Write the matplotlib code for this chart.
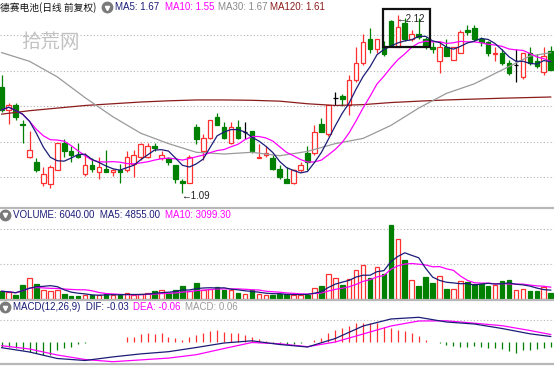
import matplotlib
matplotlib.use('Agg')
import matplotlib.pyplot as plt
import numpy as np
import pandas as pd
from matplotlib.lines import Line2D
from matplotlib.patches import Rectangle

# daily candles (qfq)
opens = [1.70, 1.57, 1.60, 1.49, 1.30, 1.27, 1.15, 1.14, 1.22, 1.38,
         1.33, 1.31, 1.20, 1.25, 1.21, 1.23, 1.21, 1.22, 1.22, 1.26,
         1.30, 1.30, 1.36, 1.29, 1.29, 1.25, 1.16, 1.15, 1.47, 1.33,
         1.41, 1.53, 1.47, 1.38, 1.47, 1.44, 1.45, 1.29, 1.31, 1.29,
         1.23, 1.17, 1.15, 1.22, 1.32, 1.32, 1.49, 1.43, 1.64, 1.65,
         1.60, 1.74, 1.84, 1.98, 1.92, 1.93, 2.08, 1.93, 2.07, 1.98,
         2.01, 1.98, 1.93, 1.85, 1.93, 1.86, 1.90, 2.03, 2.04, 1.98,
         1.96, 1.89, 1.90, 1.84, 1.83, 1.76, 1.90, 1.85, 1.79, 1.91]
highs = [1.77, 1.61, 1.61, 1.51, 1.45, 1.29, 1.24, 1.25, 1.38, 1.40,
         1.36, 1.38, 1.32, 1.29, 1.30, 1.34, 1.23, 1.26, 1.33, 1.34,
         1.38, 1.38, 1.38, 1.33, 1.30, 1.25, 1.17, 1.31, 1.49, 1.43,
         1.51, 1.55, 1.50, 1.50, 1.51, 1.50, 1.45, 1.37, 1.36, 1.31,
         1.25, 1.24, 1.23, 1.27, 1.36, 1.48, 1.52, 1.60, 1.67, 1.66,
         1.77, 1.93, 2.01, 2.04, 1.98, 1.97, 2.09, 2.12, 2.10, 2.03,
         2.10, 1.99, 1.96, 1.97, 1.98, 1.93, 2.03, 2.06, 2.06, 1.99,
         1.97, 1.93, 1.92, 1.86, 1.92, 1.90, 1.93, 1.89, 1.93, 1.94]
lows = [1.56, 1.49, 1.51, 1.38, 1.29, 1.21, 1.13, 1.12, 1.22, 1.30,
        1.27, 1.29, 1.19, 1.21, 1.17, 1.21, 1.19, 1.15, 1.21, 1.18,
        1.28, 1.29, 1.33, 1.28, 1.25, 1.15, 1.09, 1.15, 1.37, 1.28,
        1.40, 1.48, 1.40, 1.37, 1.40, 1.40, 1.32, 1.29, 1.30, 1.22,
        1.17, 1.15, 1.14, 1.21, 1.22, 1.31, 1.44, 1.42, 1.60, 1.59,
        1.54, 1.73, 1.83, 1.90, 1.90, 1.88, 1.93, 1.93, 1.97, 1.97,
        1.98, 1.92, 1.90, 1.78, 1.88, 1.86, 1.90, 2.00, 1.97, 1.94,
        1.88, 1.85, 1.83, 1.77, 1.73, 1.75, 1.83, 1.81, 1.77, 1.80]
closes = [1.57, 1.60, 1.53, 1.48, 1.34, 1.22, 1.20, 1.24, 1.38, 1.33,
          1.31, 1.30, 1.25, 1.23, 1.24, 1.21, 1.22, 1.21, 1.30, 1.31,
          1.37, 1.36, 1.35, 1.31, 1.27, 1.17, 1.15, 1.30, 1.40, 1.41,
          1.51, 1.48, 1.41, 1.47, 1.41, 1.44, 1.33, 1.30, 1.32, 1.23,
          1.18, 1.15, 1.22, 1.25, 1.27, 1.44, 1.44, 1.60, 1.64, 1.63,
          1.74, 1.84, 1.96, 1.92, 1.98, 1.89, 1.94, 2.05, 1.98, 2.01,
          1.99, 1.94, 1.92, 1.93, 1.88, 1.93, 2.02, 2.02, 1.98, 1.96,
          1.90, 1.90, 1.84, 1.78, 1.83, 1.90, 1.84, 1.82, 1.88, 1.80]
volumes = [3850, 3350, 2150, 7150, 10500, 7500, 4350, 3850, 4650, 2650,
           1650, 1650, 2150, 2150, 1850, 2500, 2150, 1850, 3000, 1850,
           2500, 3000, 3850, 4650, 3000, 4350, 6650, 3850, 8000, 4650,
           5000, 6000, 4350, 4650, 3000, 2500, 4350, 2500, 2150, 1850,
           2500, 2500, 2150, 2150, 2150, 5500, 6350, 12650, 10500, 7150,
           10000, 14650, 17150, 10500, 16000, 12650, 37150, 30000, 19650, 9650,
           6650, 10850, 8000, 11350, 5000, 5000, 8850, 8350, 7650, 7650,
           6650, 7150, 9150, 9650, 4350, 5000, 4150, 4150, 5850, 3000]

# long averages and MACD lines read every 4 sessions
line_idx = [0, 4, 8, 12, 16, 20, 24, 28, 32, 36, 40, 44, 48, 52, 56, 60, 64, 68, 72, 76, 79]
ma30 = [1.90, 1.85, 1.76, 1.64, 1.53, 1.435, 1.375, 1.325, 1.315, 1.325, 1.305,
        1.33, 1.375, 1.405, 1.48, 1.58, 1.665, 1.72, 1.80, 1.88, 1.90]
ma120 = [1.545, 1.565, 1.58, 1.595, 1.605, 1.615, 1.622, 1.627, 1.627, 1.625, 1.62,
         1.605, 1.595, 1.60, 1.612, 1.62, 1.627, 1.632, 1.637, 1.641, 1.644]
dif = [-0.03, -0.0515, -0.084, -0.094, -0.076, -0.061, -0.05, -0.029, -0.0065, 0.0045, -0.014,
       -0.0265, 0.016, 0.0785, 0.1135, 0.122, 0.0985, 0.0885, 0.066, 0.0395, 0.026]
dea = [-0.02, -0.0365, -0.0665, -0.089, -0.10, -0.091, -0.082, -0.065, -0.034, -0.004, -0.0105,
       -0.025, -0.0015, 0.0385, 0.0785, 0.1035, 0.1045, 0.0925, 0.08, 0.056, 0.036]
macd_hist = [-0.025, -0.025, -0.033, -0.042, -0.05, -0.058, -0.067, -0.067, -0.042, -0.033,
             -0.025, -0.012, -0.005, -0.003, -0.003, -0.002, -0.002, 0.001, 0.025, 0.025,
             0.037, 0.042, 0.038, 0.042, 0.025, 0.017, 0.008, 0.022, 0.033, 0.042,
             0.055, 0.058, 0.05, 0.042, 0.042, 0.033, 0.022, 0.012, 0.005, -0.005,
             -0.008, -0.012, -0.012, -0.005, -0.001, 0.008, 0.017, 0.042, 0.058, 0.067,
             0.078, 0.092, 0.095, 0.095, 0.092, 0.075, 0.07, 0.058, 0.053, 0.045,
             0.028, 0.008, 0.0, -0.008, -0.017, -0.022, -0.025, -0.025, -0.022, -0.025,
             -0.033, -0.033, -0.038, -0.045, -0.055, -0.042, -0.042, -0.038, -0.033, -0.025]

price_grid = [2.0, 1.795, 1.59, 1.387, 1.185]
vol_grid = [17500, 35000]
macd_grid = [0.1085]

RED = '#ff3030'
GREEN = '#008000'
NAVY = '#1c1c78'
MAGENTA = '#ff00ff'
GRAY = '#9a9a9a'
DARKRED = '#8b1c1c'
GRID = '#b4b4b4'

plt.rcParams['font.family'] = ['Liberation Sans', 'Noto Sans CJK SC', 'DejaVu Sans']

df = pd.DataFrame({'open': opens, 'high': highs, 'low': lows, 'close': closes, 'vol': volumes})
n = len(df)
x = np.arange(n)
ma5 = df['close'].rolling(5, min_periods=1).mean()
ma10 = df['close'].rolling(10, min_periods=1).mean()
vma5 = df['vol'].rolling(5, min_periods=1).mean()
vma10 = df['vol'].rolling(10, min_periods=1).mean()

W, H = 554, 367
fig = plt.figure(figsize=(W / 100, H / 100), dpi=100)


def band(top, bottom):
    return [0, 1 - bottom / H, 1, (bottom - top) / H]


ax_p = fig.add_axes(band(0, 208))
ax_v = fig.add_axes(band(208, 300))
ax_m = fig.add_axes(band(300, 364))
for ax in (ax_p, ax_v, ax_m):
    ax.set_xlim(-0.245, 79.47)
    ax.set_xticks([])
    ax.set_yticks([])
    for s in ax.spines.values():
        s.set_visible(False)
ax_p.set_ylim(1.0035, 2.2037)
ax_v.set_ylim(-500, 45500)
ax_m.set_ylim(-0.1115, 0.2085)

for g in price_grid:
    ax_p.axhline(g, color=GRID, lw=0.8, ls=(0, (1, 2)), zorder=0)
for g in vol_grid:
    ax_v.axhline(g, color=GRID, lw=0.8, ls=(0, (1, 2)), zorder=0)
for g in macd_grid:
    ax_m.axhline(g, color=GRID, lw=0.8, ls=(0, (1, 2)), zorder=0)

bw = 0.66
# candles
for i, r in df.iterrows():
    o, h, l, c = r['open'], r['high'], r['low'], r['close']
    if c > o:
        col, fc = RED, 'white'
    elif c < o:
        col, fc = GREEN, GREEN
    else:
        col, fc = 'black', 'black'
    ax_p.vlines(i, l, h, color=col, lw=0.9, zorder=2)
    if c == o:
        ax_p.hlines(c, i - bw / 2, i + bw / 2, color=col, lw=0.9, zorder=3)
    else:
        ax_p.add_patch(Rectangle((i - bw / 2, min(o, c)), bw, abs(c - o),
                                 facecolor=fc, edgecolor=col, lw=0.9, zorder=3))
    # volume
    vcol, vfc = (RED, 'white') if c >= o else (GREEN, GREEN)
    ax_v.add_patch(Rectangle((i - bw / 2, 0), bw, r['vol'],
                             facecolor=vfc, edgecolor=vcol, lw=0.9, zorder=2))

ax_p.plot(line_idx, ma120, color=DARKRED, lw=0.9, zorder=4)
ax_p.plot(line_idx, ma30, color=GRAY, lw=0.9, zorder=4)
ax_p.plot(x, ma10, color=MAGENTA, lw=0.9, zorder=5)
ax_p.plot(x, ma5, color=NAVY, lw=0.9, zorder=6)

ax_v.plot(x, vma10, color=MAGENTA, lw=0.9, zorder=4)
ax_v.plot(x, vma5, color=NAVY, lw=0.9, zorder=5)

hist = np.array(macd_hist)
ax_m.vlines(x, 0, hist, colors=[RED if v > 0 else GREEN for v in hist], lw=0.9)
ax_m.plot(line_idx, dea, color=MAGENTA, lw=0.9)
ax_m.plot(line_idx, dif, color=NAVY, lw=0.9)

# min / max markers
imax = int(np.argmax(highs))
imin = int(np.argmin(lows))
ax_p.annotate('←' + format(highs[imax], '.2f'), xy=(imax, highs[imax]), xytext=(-1, -3),
              textcoords='offset points', ha='left', va='center', fontsize=7, color='#222222')
ax_p.annotate('←' + format(lows[imin], '.2f'), xy=(imin, lows[imin]), xytext=(-1, -2.5),
              textcoords='offset points', ha='left', va='center', fontsize=7, color='#222222')
ax_p.add_patch(Rectangle((54.86, 1.932), 6.77, 0.22, fill=False, edgecolor='#111111', lw=1.6, zorder=7))

# watermark
fig.text(21 / W, 1 - 43 / H, '拾荒网', family=['Noto Sans CJK SC'], fontsize=14,
         color='#c2c2c2', ha='left', va='center')

# panel separators
for yy in (208, 300, 364):
    fig.add_artist(Line2D([0, 1], [1 - yy / H] * 2, transform=fig.transFigure, color='#b8b8b8', lw=1.6))


def icon(px, py):
    fig.add_artist(Line2D([px / W], [1 - py / H], transform=fig.transFigure, marker='o', ms=7.5,
                          color='#7a7a7a', ls='none'))
    fig.add_artist(Line2D([px / W], [1 - (py + 0.5) / H], transform=fig.transFigure, marker='v', ms=3,
                          color='white', ls='none'))


def label(px, py, s, col, **kw):
    fig.text(px / W, 1 - py / H, s, color=col, fontsize=7, ha='left', va='center', **kw)


label(0, 7.5, '德赛电池(日线 前复权)', '#111111', family=['Noto Sans CJK SC'])
icon(107, 7)
label(115, 7.5, 'MA5: 1.67', NAVY)
label(165, 7.5, 'MA10: 1.55', MAGENTA)
label(218, 7.5, 'MA30: 1.67', '#8a8a8a')
label(270, 7.5, 'MA120: 1.61', DARKRED)

icon(4.5, 215)
label(13, 215.5, 'VOLUME: 6040.00  MA5: 4855.00', NAVY)
label(165, 215.5, 'MA10: 3099.30', MAGENTA)

icon(4.5, 307)
label(13, 307.5, 'MACD(12,26,9)  DIF: -0.03', NAVY)
label(133, 307.5, 'DEA: -0.06', MAGENTA)
label(185, 307.5, 'MACD: 0.06', '#9a9a9a')

fig.savefig('out.png', dpi=100)
